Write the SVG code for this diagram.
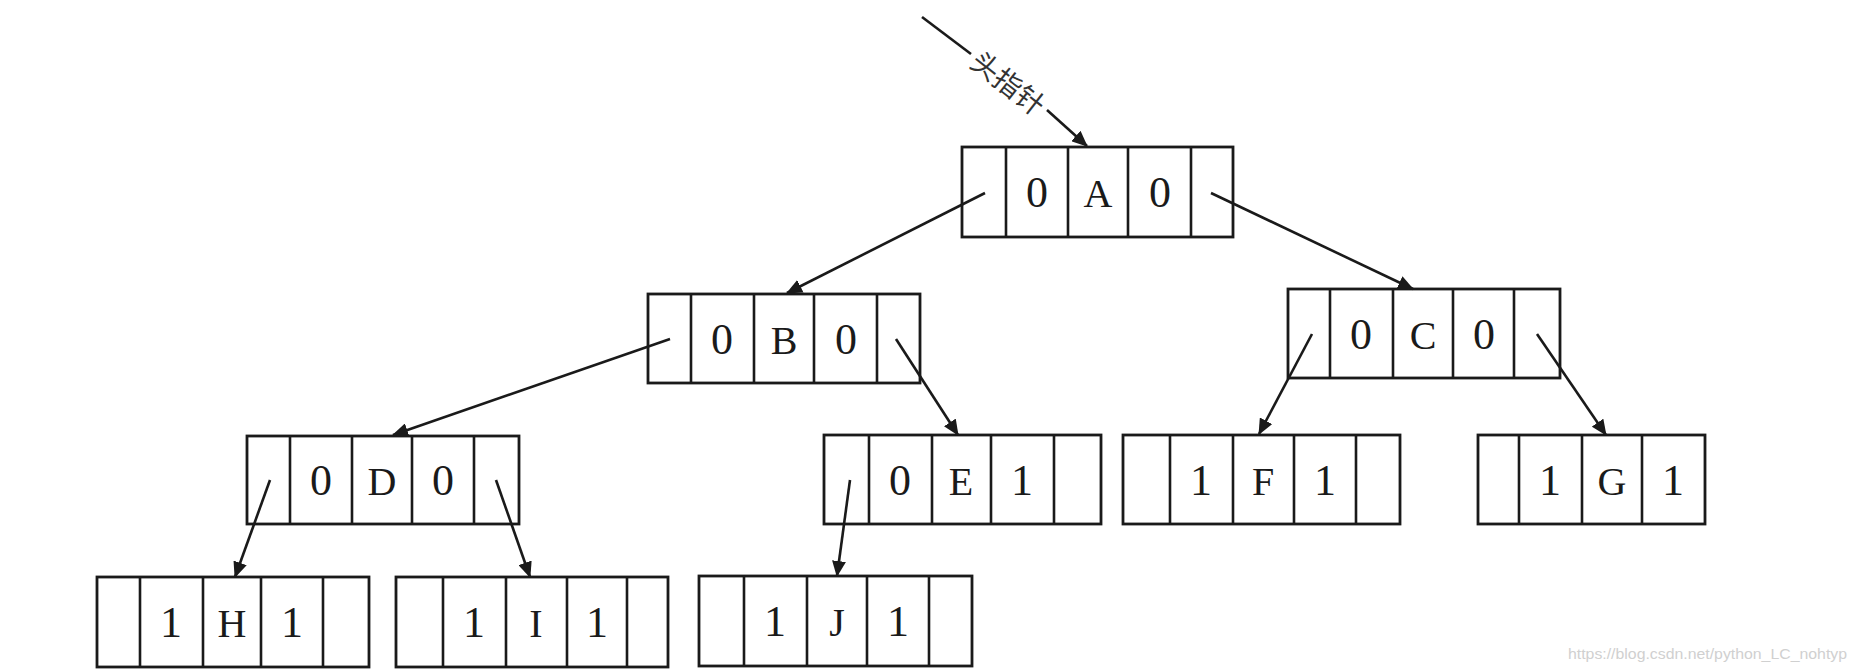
<svg xmlns="http://www.w3.org/2000/svg" width="1856" height="672" viewBox="0 0 1856 672">
<style>
.box{fill:none;stroke:#1a1a1a;stroke-width:2.8}
.div{stroke:#1a1a1a;stroke-width:2.6}
.t{font-family:"Liberation Serif","Times New Roman",serif;font-size:40px;fill:#1a1a1a;text-anchor:middle;dominant-baseline:central}
.n{font-size:44px}
.c{stroke:#1a1a1a;stroke-width:2.6;fill:none}
.lbl{font-family:"Noto Sans CJK SC","Noto Sans CJK JP",sans-serif;font-size:28px;fill:#333;text-anchor:middle;dominant-baseline:central}
.wm{font-family:"Liberation Sans",Arial,sans-serif;font-size:15px;fill:#d0d0d0}
</style>
<defs>
<marker id="ah" viewBox="0 0 16 14" refX="15" refY="7" markerWidth="16" markerHeight="14" markerUnits="userSpaceOnUse" orient="auto">
<path d="M0,0 L16,7 L0,14 Z" fill="#1a1a1a"/>
</marker>
</defs>
<rect width="1856" height="672" fill="#ffffff"/>

<g id="nodeA">
<rect class="box" x="962" y="147" width="271" height="90"/>
<path class="div" d="M1006,147V237M1068,147V237M1128,147V237M1191,147V237"/>
<text class="t n" x="1037" y="192">0</text><text class="t" x="1098" y="193">A</text><text class="t n" x="1160" y="192">0</text>
</g>
<g id="nodeB">
<rect class="box" x="648" y="294" width="272" height="89"/>
<path class="div" d="M691,294V383M754,294V383M814,294V383M877,294V383"/>
<text class="t n" x="722" y="339">0</text><text class="t" x="784" y="340">B</text><text class="t n" x="846" y="339">0</text>
</g>
<g id="nodeC">
<rect class="box" x="1288" y="289" width="272" height="89"/>
<path class="div" d="M1330,289V378M1393,289V378M1453,289V378M1514,289V378"/>
<text class="t n" x="1361" y="334">0</text><text class="t" x="1423" y="335">C</text><text class="t n" x="1484" y="334">0</text>
</g>
<g id="nodeD">
<rect class="box" x="247" y="436" width="272" height="88"/>
<path class="div" d="M290,436V524M352,436V524M412,436V524M474,436V524"/>
<text class="t n" x="321" y="480">0</text><text class="t" x="382" y="481">D</text><text class="t n" x="443" y="480">0</text>
</g>
<g id="nodeE">
<rect class="box" x="824" y="435" width="277" height="89"/>
<path class="div" d="M869,435V524M932,435V524M991,435V524M1054,435V524"/>
<text class="t n" x="900" y="480">0</text><text class="t" x="961" y="481">E</text><text class="t n" x="1022" y="480">1</text>
</g>
<g id="nodeF">
<rect class="box" x="1123" y="435" width="277" height="89"/>
<path class="div" d="M1170,435V524M1233,435V524M1294,435V524M1356,435V524"/>
<text class="t n" x="1201" y="480">1</text><text class="t" x="1263" y="481">F</text><text class="t n" x="1325" y="480">1</text>
</g>
<g id="nodeG">
<rect class="box" x="1478" y="435" width="227" height="89"/>
<path class="div" d="M1519,435V524M1582,435V524M1642,435V524"/>
<text class="t n" x="1550" y="480">1</text><text class="t" x="1612" y="481">G</text><text class="t n" x="1673" y="480">1</text>
</g>
<g id="nodeH">
<rect class="box" x="97" y="577" width="272" height="90"/>
<path class="div" d="M140,577V667M203,577V667M261,577V667M323,577V667"/>
<text class="t n" x="171" y="622">1</text><text class="t" x="232" y="623">H</text><text class="t n" x="292" y="622">1</text>
</g>
<g id="nodeI">
<rect class="box" x="396" y="577" width="272" height="90"/>
<path class="div" d="M443,577V667M506,577V667M567,577V667M627,577V667"/>
<text class="t n" x="474" y="622">1</text><text class="t" x="536" y="623">I</text><text class="t n" x="597" y="622">1</text>
</g>
<g id="nodeJ">
<rect class="box" x="699" y="576" width="273" height="90"/>
<path class="div" d="M744,576V666M807,576V666M867,576V666M929,576V666"/>
<text class="t n" x="775" y="621">1</text><text class="t" x="837" y="622">J</text><text class="t n" x="898" y="621">1</text>
</g>

<g id="connectors">
<line class="c" x1="922" y1="17" x2="971" y2="54"/>
<line class="c" x1="1047" y1="110" x2="1087" y2="146" marker-end="url(#ah)"/>
<line class="c" x1="985" y1="193" x2="787" y2="293" marker-end="url(#ah)"/>
<line class="c" x1="1211" y1="193" x2="1413" y2="289" marker-end="url(#ah)"/>
<line class="c" x1="670" y1="339" x2="393" y2="435" marker-end="url(#ah)"/>
<line class="c" x1="896" y1="339" x2="958" y2="435" marker-end="url(#ah)"/>
<line class="c" x1="1312" y1="334" x2="1259" y2="434" marker-end="url(#ah)"/>
<line class="c" x1="1537" y1="334" x2="1606" y2="435" marker-end="url(#ah)"/>
<line class="c" x1="270" y1="480" x2="235" y2="577" marker-end="url(#ah)"/>
<line class="c" x1="496" y1="480" x2="530" y2="577" marker-end="url(#ah)"/>
<line class="c" x1="850" y1="480" x2="837" y2="576" marker-end="url(#ah)"/>
<text class="lbl" x="1009" y="82" transform="rotate(38 1009 82)">头指针</text>
</g>

<text class="wm" x="1568" y="659" textLength="279" lengthAdjust="spacingAndGlyphs">https://blog.csdn.net/python_LC_nohtyp</text>
</svg>
